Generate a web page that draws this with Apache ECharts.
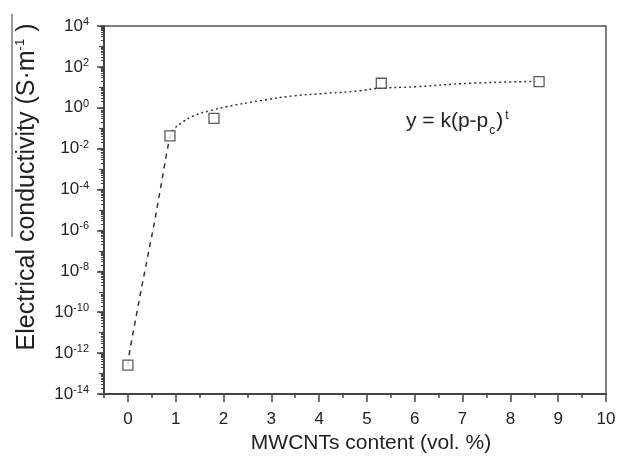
<!DOCTYPE html>
<html>
<head>
<meta charset="utf-8">
<style>
  html, body { margin: 0; padding: 0; background: #fff; }
  #chart { width: 628px; height: 459px; }
</style>
<script src="https://cdn.jsdelivr.net/npm/echarts@6/dist/echarts.min.js"></script>
</head>
<body>
<div id="chart"></div>
<script>
// measured points (vol.% , S/m)
const contentVol = [0, 0.88, 1.8, 5.3, 8.6];
const conductivity = [2.6e-13, 0.042, 0.30, 15.8, 19];

// dashed jump below percolation threshold
const jumpX = [0, 0.04, 0.29, 0.565, 0.81, 0.88];
const jumpY = [2.6e-13, 1.4e-12, 1.8e-9, 3.2e-6, 5.9e-3, 0.042];

// fitted power law curve
const fitX = [0.88, 0.98, 1.16, 1.37, 1.72, 2.06, 2.76, 3.46, 4.16, 4.85, 5.2, 6.04, 7.15, 8.6];
const fitY = [0.042, 0.10, 0.21, 0.40, 0.72, 1.12, 2.2, 3.8, 5.1, 6.8, 8.9, 10.7, 15.8, 19.5];

const xTicks = [0, 1, 2, 3, 4, 5, 6, 7, 8, 9, 10];
const yTickExp = [-14, -12, -10, -8, -6, -4, -2, 0, 2, 4];

const FONT = 'Liberation Sans, Arial, sans-serif';
const AX = '#444';

const zip = (xs, ys) => xs.map((x, i) => [x, ys[i]]);

const chart = echarts.init(document.getElementById('chart'));

chart.setOption({
  animation: false,
  backgroundColor: '#fff',
  grid: {
    left: 104, right: 22, top: 26, bottom: 65,
    show: true, borderColor: '#555', borderWidth: 1.5
  },
  xAxis: [{
    type: 'value', min: -0.5, max: 10,
    axisLine: { onZero: false, lineStyle: { color: AX, width: 2 } },
    axisTick: { customValues: xTicks, length: 8, lineStyle: { color: AX, width: 1.5 } },
    axisLabel: {
      customValues: xTicks, margin: 17,
      color: '#222', fontSize: 17, fontFamily: FONT
    },
    splitLine: { show: false },
    name: 'MWCNTs content (vol. %)',
    nameLocation: 'middle', nameGap: 36,
    nameTextStyle: { fontSize: 21, color: '#222', fontFamily: FONT, padding: [0, 0, 0, 32] }
  }, {
    type: 'value', min: -0.5, max: 10, interval: 0.5, position: 'bottom',
    axisLine: { show: false, onZero: false },
    axisTick: { length: 4, lineStyle: { color: AX, width: 1.5 } },
    axisLabel: { show: false },
    splitLine: { show: false }
  }],
  yAxis: [{
    type: 'log', logBase: 10, min: 1e-14, max: 1e4, interval: 2,
    axisLine: { onZero: false, lineStyle: { color: AX, width: 2 } },
    axisTick: { length: 7, lineStyle: { color: AX, width: 1.5 } },
    axisLabel: {
      margin: 15,
      formatter: v => {
        const e = Math.round(Math.log10(v));
        return yTickExp.includes(e) ? '{b|10}{s|' + e + '}' : '';
      },
      rich: {
        b: { fontSize: 17, color: '#222', fontFamily: FONT, lineHeight: 19 },
        s: { fontSize: 11, color: '#222', fontFamily: FONT, verticalAlign: 'top', lineHeight: 12 }
      }
    },
    splitLine: { show: false },
    name: '{t|Electrical conductivity (S·m}{s|-1}{t| )}',
    nameLocation: 'middle', nameGap: 64,
    nameTextStyle: {
      padding: [0, 0, 0, 46],
      rich: {
        t: { fontSize: 25, color: '#222', fontFamily: FONT, lineHeight: 26 },
        s: { fontSize: 13, color: '#222', fontFamily: FONT, verticalAlign: 'top', lineHeight: 14 }
      }
    }
  }, {
    type: 'log', logBase: 10, min: 1e-14, max: 1e4, interval: 1, position: 'left',
    axisLine: { show: false, onZero: false },
    axisTick: { length: 5, lineStyle: { color: AX, width: 1.2 } },
    minorTick: { show: true, splitNumber: 9, length: 3, lineStyle: { color: AX, width: 1 } },
    axisLabel: { show: false },
    splitLine: { show: false }
  }],
  series: [{
    type: 'line', data: zip(jumpX, jumpY),
    showSymbol: false, symbol: 'none',
    lineStyle: { color: '#333', width: 1.5, type: [5, 5] },
    z: 2
  }, {
    type: 'line', data: zip(fitX, fitY), smooth: true,
    showSymbol: false, symbol: 'none',
    lineStyle: { color: '#333', width: 1.5, type: [2, 3] },
    z: 2
  }, {
    type: 'scatter', data: zip(contentVol, conductivity),
    symbol: 'rect', symbolSize: 10,
    itemStyle: { color: '#fff', borderColor: '#333', borderWidth: 1.3 },
    z: 3
  }],
  graphic: [{
    type: 'line',
    shape: { x1: 12, y1: 14, x2: 12, y2: 237 },
    style: { stroke: '#333', lineWidth: 1 }
  }, {
    type: 'text', left: 406, top: 110,
    style: {
      text: '{m|y = k(p-p}{c|c}{m|)}{t|t}',
      rich: {
        m: { fontSize: 21, fill: '#222', fontFamily: FONT, lineHeight: 22 },
        c: { fontSize: 12, fill: '#222', fontFamily: FONT, verticalAlign: 'bottom', lineHeight: 12, padding: [0, 1, -5, 1] },
        t: { fontSize: 12, fill: '#222', fontFamily: FONT, verticalAlign: 'top', lineHeight: 12, padding: [0, 0, 0, 2] }
      }
    }
  }]
});
</script>
</body>
</html>
